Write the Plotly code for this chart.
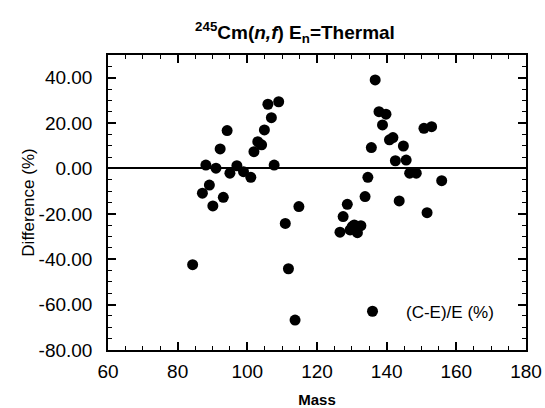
import plotly.graph_objects as go

# Mass and difference (%) values
mass = [88.1, 91.0, 89.1, 87.1, 90.1, 93.1, 92.2, 94.2, 95.0, 97.0,
        98.9, 101.0, 101.9, 103.0, 104.1, 104.9, 106.9, 105.9, 109.0, 107.7,
        110.9, 114.8, 84.3, 111.8, 113.7,
        136.7, 137.8, 139.8, 138.8, 140.8, 141.8, 135.6, 144.8, 142.5, 145.6,
        146.6, 148.5, 150.7, 152.9, 155.8, 134.6, 133.8, 143.6, 151.6, 128.7,
        127.5, 126.6, 130.1, 130.7, 132.6, 129.5, 131.6]
difference = [1.5, 0.1, -7.3, -10.9, -16.5, -12.7, 8.6, 16.7, -2.1, 1.2,
              -1.4, -3.9, 7.4, 11.8, 10.4, 17.0, 22.4, 28.3, 29.4, 1.5,
              -24.2, -16.8, -42.4, -44.2, -66.8,
              39.0, 25.0, 23.9, 19.2, 12.6, 13.6, 9.2, 9.9, 3.4, 3.7,
              -2.1, -2.1, 17.7, 18.4, -5.4, -3.9, -12.4, -14.3, -19.5, -15.8,
              -21.2, -28.1, -25.6, -24.9, -25.2, -27.1, -28.3]

y_tick_values = [40, 20, 0, -20, -40, -60, -80]
y_tick_labels = ["40.00", "20.00", "0.00", "-20.00", "-40.00", "-60.00", "-80.00"]
x_tick_values = [60, 80, 100, 120, 140, 160, 180]
x_tick_labels = ["60", "80", "100", "120", "140", "160", "180"]

series_name = "(C-E)/E (%)"
title_text = "<b><sup>245</sup>Cm(<i>n,f</i>) E<sub>n</sub>=Thermal</b>"

FONT = "Liberation Sans, Arial"

fig = go.Figure()
fig.add_trace(go.Scatter(
    x=mass, y=difference, mode="markers", name=series_name,
    marker=dict(color="black", size=11, line=dict(width=0)),
    showlegend=True,
))

axis_common = dict(
    showline=True, linecolor="black", linewidth=1.5, mirror="allticks",
    ticks="inside", ticklen=8, tickwidth=1.5, tickcolor="black",
    showgrid=False, automargin=False,
    tickfont=dict(family=FONT, size=19, color="black"),
    minor=dict(ticks="inside", ticklen=4, tickwidth=1, tickcolor="black", dtick=5, showgrid=False),
)

fig.update_layout(
    width=545, height=408,
    margin=dict(l=108, r=19, t=55, b=58),
    paper_bgcolor="white", plot_bgcolor="white",
    title=dict(text=title_text, x=295/545, xref="container", xanchor="center",
               y=1 - 32/408, yref="container", yanchor="middle",
               font=dict(family=FONT, size=19, color="black")),
    xaxis=dict(range=[60, 180], tickmode="array", tickvals=x_tick_values, ticktext=x_tick_labels,
               zeroline=False, ticklabelstandoff=3,
               title=dict(text="<b>Mass</b>", standoff=18,
                          font=dict(family=FONT, size=15, color="black")),
               **axis_common),
    yaxis=dict(range=[-80, 50], tickmode="array", tickvals=y_tick_values, ticktext=y_tick_labels,
               zeroline=True, zerolinecolor="black", zerolinewidth=2,
               ticklabelstandoff=10,
               title=dict(text="Difference (%)", standoff=0,
                          font=dict(family=FONT, size=17, color="black")),
               **axis_common),
    legend=dict(x=(339 - 108) / 418, y=(350 - 311.7) / 295, xanchor="left", yanchor="middle",
                bgcolor="rgba(0,0,0,0)", borderwidth=0,
                font=dict(family=FONT, size=17, color="black"),
                itemwidth=57),
)

fig.write_html("out.html",
               config={"displayModeBar": False},
               post_script="document.body.style.margin='0';document.body.style.padding='0';")
